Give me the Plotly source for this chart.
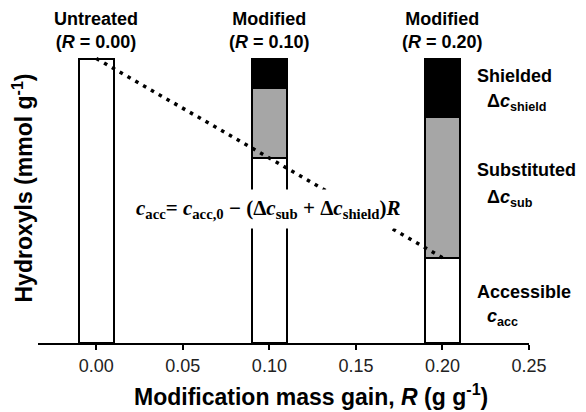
import plotly.graph_objects as go

# Data
R_values = [0.00, 0.10, 0.20]
accessible = [1.00, 0.65, 0.30]
substituted = [0.00, 0.245, 0.495]
shielded = [0.00, 0.105, 0.205]
top_labels = ["Untreated", "Modified", "Modified"]
tick_vals = [0.00, 0.05, 0.10, 0.15, 0.20, 0.25]
tick_text = ["0.00", "0.05", "0.10", "0.15", "0.20", "0.25"]
line_x = [R_values[0], R_values[2]]
line_y = [accessible[0], accessible[2]]

BAR_W = 0.02
SANS = "Liberation Sans, Arial, sans-serif"
SERIF = "Liberation Serif, Times New Roman, serif"

fig = go.Figure()
for vals, col in [(accessible, "white"), (substituted, "#a6a6a6"), (shielded, "black")]:
    fig.add_trace(go.Bar(
        x=R_values, y=vals, width=BAR_W,
        marker=dict(color=col, line=dict(color="black", width=2.5)),
        hoverinfo="skip",
    ))

fig.add_trace(go.Scatter(
    x=line_x, y=line_y, mode="lines",
    line=dict(color="black", width=3.5, dash="3.5px,5.5px"),
    hoverinfo="skip",
))

annotations = []
for r, lab in zip(R_values, top_labels):
    annotations.append(dict(
        x=r, y=accessible[0], xref="x", yref="y",
        text=f"<b>{lab}<br>(<i>R</i> = {r:.2f})</b>",
        showarrow=False, xanchor="center", yanchor="bottom", yshift=5,
        font=dict(family=SANS, size=18, color="black"),
    ))

# Right-side labels
right_x = 0.2186
sub_x = 0.2243
right_items = [
    (0.940, "<b>Shielded</b>", 18, right_x),
    (0.846, "<b>Δ<i>c</i><sub>shield</sub></b>", 18, sub_x),
    (0.608, "<b>Substituted</b>", 18, right_x),
    (0.508, "<b>Δ<i>c</i><sub>sub</sub></b>", 18, sub_x),
    (0.180, "<b>Accessible</b>", 18, right_x),
    (0.090, "<b><i>c</i><sub>acc</sub></b>", 18, sub_x),
]
for yy, txt, sz, xx in right_items:
    annotations.append(dict(
        x=xx, y=yy, xref="x", yref="y", text=txt, showarrow=False,
        xanchor="left", yanchor="middle",
        font=dict(family=SANS, size=sz, color="black"),
    ))

# Equation
annotations.append(dict(
    x=0.0991, y=0.47, xref="x", yref="y",
    text="<b><i>c</i><sub>acc</sub>= <i>c</i><sub>acc,0</sub> − (Δ<i>c</i><sub>sub</sub> + Δ<i>c</i><sub>shield</sub>)<i>R</i></b>",
    showarrow=False, xanchor="center", yanchor="middle",
    bgcolor="white", borderpad=6,
    font=dict(family=SERIF, size=21, color="black"),
))

# Axis titles
annotations.append(dict(
    x=0, y=0.5, xref="paper", yref="paper", xshift=-16, yshift=5,
    text="<b>Hydroxyls (mmol g<sup>-1</sup>)</b>", textangle=-90,
    showarrow=False, xanchor="center", yanchor="middle",
    font=dict(family=SANS, size=23, color="black"),
))
annotations.append(dict(
    x=0.556, y=0, xref="paper", yref="paper", yshift=-52,
    text="<b>Modification mass gain, <i>R</i> (g g<sup>-1</sup>)</b>",
    showarrow=False, xanchor="center", yanchor="middle",
    font=dict(family=SANS, size=23, color="black"),
))

fig.update_layout(
    width=586, height=412,
    margin=dict(l=38, r=57, t=44, b=69),
    barmode="stack", bargap=0, showlegend=False,
    plot_bgcolor="white", paper_bgcolor="white",
    annotations=annotations,
    xaxis=dict(
        range=[-0.0337, 0.25], tickvals=tick_vals, ticktext=tick_text,
        showgrid=False, zeroline=False, showline=True, linecolor="black", linewidth=2,
        ticks="outside", ticklen=5, tickwidth=2, tickcolor="black",
        tickfont=dict(family=SANS, size=18, color="#222"),
    ),
    yaxis=dict(
        range=[0, 1.051], showgrid=False, zeroline=False, showline=False,
        showticklabels=False, ticks="",
    ),
)

fig.write_html("out.html")
